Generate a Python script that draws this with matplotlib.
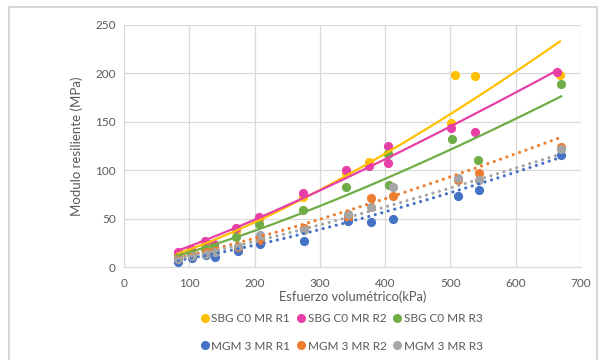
import numpy as np
import matplotlib.pyplot as plt
from matplotlib.lines import Line2D
from matplotlib.patches import Rectangle

plt.rcParams['font.family'] = ['Lato', 'DejaVu Sans']

# Esfuerzo volumétrico (kPa) y módulo resiliente (MPa) por serie
sbg_r1_x = [82, 103, 124, 138, 172, 207, 274, 340, 375, 404, 501, 507, 538, 668]
sbg_r1_y = [14, 18, 24, 23, 37, 50, 72, 97, 108, 118, 149, 198, 197, 198]

sbg_r2_x = [82, 103, 124, 138, 172, 207, 274, 340, 375, 404, 404, 501, 538, 664]
sbg_r2_y = [16, 19, 27, 24, 40, 52, 76, 100, 104, 125, 107, 144, 139, 201]

sbg_r3_x = [82, 103, 124, 138, 172, 207, 274, 340, 404, 406, 503, 542, 670]
sbg_r3_y = [10, 14, 19, 21, 31, 44, 59, 83, 117, 85, 132, 111, 189]

mgm_x = [83, 104, 125, 139, 174, 208, 276, 343, 378, 412, 511, 544, 670]
mgm_r1_y = [5, 9, 13, 10, 17, 24, 27, 48, 47, 50, 73, 80, 116]
mgm_r2_y = [9, 12, 16, 17, 21, 28, 40, 52, 71, 73, 90, 97, 124]
mgm_r3_y = [8, 11, 14, 16, 22, 33, 38, 55, 62, 83, 92, 90, 122]

labels = ['SBG C0 MR R1', 'SBG C0 MR R2', 'SBG C0 MR R3',
          'MGM 3 MR R1', 'MGM 3 MR R2', 'MGM 3 MR R3']
colors = ['#FFC000', '#E640A8', '#70AD47', '#4472C4', '#ED7D31', '#A5A5A5']

# línea de tendencia potencial y = a * x^b de cada serie
trend_a = [0.03818, 0.09135, 0.04281, 0.01927, 0.04117, 0.03960]
trend_b = [1.340, 1.186, 1.279, 1.334, 1.243, 1.228]

series = [
    (sbg_r1_x, sbg_r1_y, '-'),
    (sbg_r2_x, sbg_r2_y, '-'),
    (sbg_r3_x, sbg_r3_y, '-'),
    (mgm_x, mgm_r1_y, ':'),
    (mgm_x, mgm_r2_y, ':'),
    (mgm_x, mgm_r3_y, ':'),
]

fig = plt.figure(figsize=(6, 3.6), dpi=100)
ax = fig.add_axes([0.207, 0.258, 0.761, 0.673])

for (x, y, ls), c in zip(series, colors):
    ax.plot(x, y, 'o', color=c, markersize=5.6, zorder=3)

for (x, y, ls), c, a, b in zip(series, colors, trend_a, trend_b):
    xs = np.linspace(min(x), max(x), 100)
    ys = a * xs ** b
    if ls == '-':
        ax.plot(xs, ys, '-', color=c, linewidth=1.6, zorder=4)
    else:
        ax.plot(xs, ys, linestyle=(0, (0.01, 2.1)), color=c, linewidth=2.3,
                dash_capstyle='round', zorder=4)

ax.set_xlim(0, 700)
ax.set_ylim(0, 250)
ax.set_xticks(range(0, 701, 100))
ax.set_yticks(range(0, 251, 50))
ax.grid(color='#D9D9D9', linewidth=0.9)
ax.set_axisbelow(True)
for s in ['top', 'right', 'left']:
    ax.spines[s].set_visible(False)
ax.spines['bottom'].set_color('#D9D9D9')
ax.tick_params(length=0, labelsize=8.5, labelcolor='#595959')
ax.tick_params(axis='x', pad=8)
ax.tick_params(axis='y', pad=6)

ax.set_xlabel('Esfuerzo volumétrico(kPa)', fontsize=9.3, color='#595959', labelpad=1)
ax.set_ylabel('Modulo resiliente (MPa)', fontsize=9.5, color='#595959', labelpad=9)

# leyenda en dos filas (orden por filas)
order = [0, 3, 1, 4, 2, 5]
handles = [Line2D([], [], marker='o', linestyle='none', color=colors[i], markersize=5.5)
           for i in order]
fig.legend(handles, [labels[i] for i in order], ncol=3, loc='center',
           bbox_to_anchor=(0.568, 0.077), frameon=False, fontsize=8.5,
           labelcolor='#595959', handletextpad=0.05, columnspacing=0.4,
           handlelength=1.0, labelspacing=1.4)

# marco del gráfico
fig.patches.append(Rectangle((0.015, -0.01), 0.98, 0.99, transform=fig.transFigure,
                             fill=False, edgecolor='#D0D0D0', linewidth=1.2))

fig.savefig('out.png', dpi=100)
